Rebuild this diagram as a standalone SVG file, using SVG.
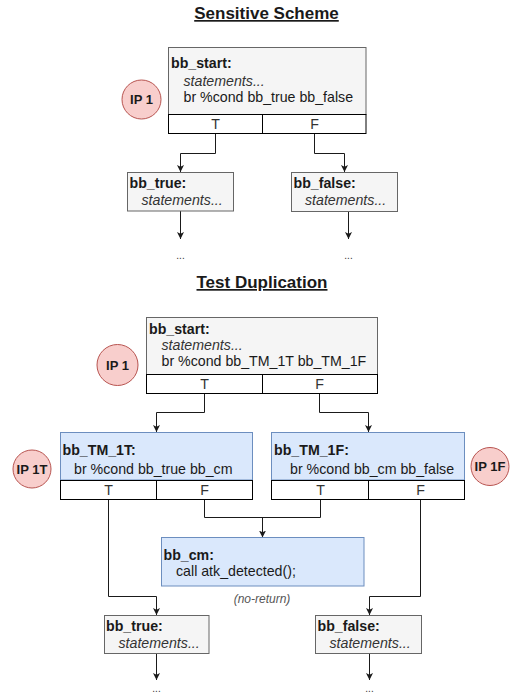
<svg xmlns="http://www.w3.org/2000/svg" width="513" height="698" viewBox="0 0 513 698">
<style>
text{font-family:"Liberation Sans",Arial,sans-serif;fill:#1a1a1a;font-size:14.2px}
.title{font-size:17px;font-weight:bold;text-decoration:underline}
.b{font-weight:bold}
.i{font-style:italic;fill:#333}
.c{text-anchor:middle}
.tf{fill:#333}
.gray{fill:#f5f5f5;stroke:#666666;stroke-width:1}
.blue{fill:#dae8fc;stroke:#6c8ebf;stroke-width:1}
.row{fill:#ffffff;stroke:#000000;stroke-width:1}
.ip{fill:#f8cecc;stroke:#b85450;stroke-width:1}
.ipt{font-size:13px;font-weight:bold;text-anchor:middle}
.edge{fill:none;stroke:#1a1a1a;stroke-width:1}
.dots{font-size:10px;fill:#333;text-anchor:middle}
.nr{font-size:12px;font-style:italic;fill:#555;text-anchor:middle}
</style>
<defs>
<marker id="arr" viewBox="0 0 10 10" refX="10" refY="5" markerWidth="7" markerHeight="7" markerUnits="userSpaceOnUse" orient="auto">
<path d="M0,0 L10,5 L0,10 L2.5,5 Z" fill="#1a1a1a"/>
</marker>
</defs>

<text class="title c" x="266.5" y="19">Sensitive Scheme</text>
<text class="title c" x="262" y="288">Test Duplication</text>

<g id="connectors">
<path class="edge" d="M215.5,133.5 V153.5 H180.5 V172" marker-end="url(#arr)"/>
<path class="edge" d="M314.5,133.5 V153.5 H344.5 V172" marker-end="url(#arr)"/>
<path class="edge" d="M180.5,211 V239" marker-end="url(#arr)"/>
<path class="edge" d="M348.5,211.5 V239" marker-end="url(#arr)"/>
<path class="edge" d="M204.5,393.5 V412.5 H156.5 V432" marker-end="url(#arr)"/>
<path class="edge" d="M319.5,393.5 V412.5 H368.5 V432" marker-end="url(#arr)"/>
<path class="edge" d="M204.5,499.5 V517.5 H320.5 V499.5"/>
<path class="edge" d="M262.5,517.5 V537.5" marker-end="url(#arr)"/>
<path class="edge" d="M108.5,499.5 V596.5 H156.5 V615" marker-end="url(#arr)"/>
<path class="edge" d="M420.5,499.5 V596.5 H369.5 V615" marker-end="url(#arr)"/>
<path class="edge" d="M156.5,653.5 V680" marker-end="url(#arr)"/>
<path class="edge" d="M369.5,653.5 V680" marker-end="url(#arr)"/>
</g>

<g id="s_bb_start">
<rect class="gray" x="168.5" y="47.5" width="197.5" height="67"/>
<rect class="row" x="168.5" y="114.5" width="94" height="19"/>
<rect class="row" x="262.5" y="114.5" width="103.5" height="19"/>
<text class="b" x="171" y="68">bb_start:</text>
<text class="i" x="183.5" y="85.5">statements...</text>
<text x="183.5" y="101.5">br %cond bb_true bb_false</text>
<text class="c tf" x="215.5" y="129">T</text>
<text class="c tf" x="314.5" y="129">F</text>
</g>
<g id="s_ip1">
<circle class="ip" cx="141.5" cy="99.5" r="19.5"/>
<text class="ipt" x="141.5" y="104">IP 1</text>
</g>
<g id="s_bb_true">
<rect class="gray" x="127.5" y="172.5" width="106" height="38.5"/>
<text class="b" x="129.5" y="187.5">bb_true:</text>
<text class="i" x="141.5" y="205">statements...</text>
</g>
<g id="s_bb_false">
<rect class="gray" x="291.5" y="172.5" width="106" height="39"/>
<text class="b" x="293.5" y="187.5">bb_false:</text>
<text class="i" x="305" y="205">statements...</text>
</g>
<text class="dots" x="180.5" y="259">...</text>
<text class="dots" x="348.5" y="259">...</text>

<g id="t_bb_start">
<rect class="gray" x="146.5" y="317.5" width="231" height="57"/>
<rect class="row" x="146.5" y="374.5" width="116" height="19"/>
<rect class="row" x="262.5" y="374.5" width="115" height="19"/>
<text class="b" x="149" y="334">bb_start:</text>
<text class="i" x="161.5" y="350">statements...</text>
<text x="161.5" y="365.5">br %cond bb_TM_1T bb_TM_1F</text>
<text class="c tf" x="204.5" y="389">T</text>
<text class="c tf" x="319.5" y="389">F</text>
</g>
<g id="t_ip1">
<circle class="ip" cx="117.5" cy="365" r="20.5"/>
<text class="ipt" x="117.5" y="369.5">IP 1</text>
</g>
<g id="bb_TM_1T">
<rect class="blue" x="60.5" y="432.5" width="192" height="47.5"/>
<rect class="row" x="60.5" y="480.5" width="96" height="19"/>
<rect class="row" x="156.5" y="480.5" width="96" height="19"/>
<text class="b" x="62.5" y="455">bb_TM_1T:</text>
<text x="74" y="473.5">br %cond bb_true bb_cm</text>
<text class="c tf" x="108.5" y="495">T</text>
<text class="c tf" x="204.5" y="495">F</text>
</g>
<g id="ip1t">
<circle class="ip" cx="32" cy="469" r="19"/>
<text class="ipt" x="32" y="473.5">IP 1T</text>
</g>
<g id="bb_TM_1F">
<rect class="blue" x="271.5" y="432.5" width="193" height="47.5"/>
<rect class="row" x="271.5" y="480.5" width="97" height="19"/>
<rect class="row" x="368.5" y="480.5" width="96" height="19"/>
<text class="b" x="274" y="455">bb_TM_1F:</text>
<text x="290" y="473.5">br %cond bb_cm bb_false</text>
<text class="c tf" x="320.5" y="495">T</text>
<text class="c tf" x="420.5" y="495">F</text>
</g>
<g id="ip1f">
<circle class="ip" cx="490" cy="466.5" r="19"/>
<text class="ipt" x="490" y="471">IP 1F</text>
</g>
<g id="bb_cm">
<rect class="blue" x="161.5" y="537.5" width="202.5" height="48.5"/>
<text class="b" x="163.5" y="560">bb_cm:</text>
<text x="176" y="576">call atk_detected();</text>
</g>
<text class="nr" x="262" y="603">(no-return)</text>
<g id="t_bb_true">
<rect class="gray" x="104.5" y="615.5" width="104.5" height="38"/>
<text class="b" x="106" y="631">bb_true:</text>
<text class="i" x="118.5" y="647.5">statements...</text>
</g>
<g id="t_bb_false">
<rect class="gray" x="315.5" y="615.5" width="106" height="38"/>
<text class="b" x="317.5" y="631">bb_false:</text>
<text class="i" x="329.5" y="647.5">statements...</text>
</g>
<text class="dots" x="156.5" y="692">...</text>
<text class="dots" x="369.5" y="692">...</text>
</svg>
